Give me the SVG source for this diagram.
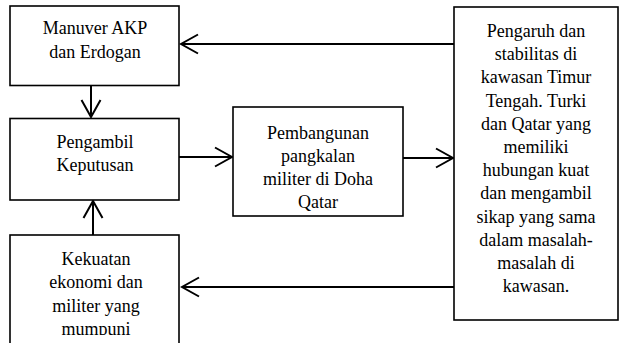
<svg xmlns="http://www.w3.org/2000/svg" width="619" height="343" viewBox="0 0 619 343">
<style>
.box{fill:#fff;stroke:#000;stroke-width:1.6}
.lbl{font-family:"Liberation Serif","Times New Roman",serif;font-size:18px;fill:#000;text-anchor:middle}
.con{stroke:#000;stroke-width:2;fill:none}
</style>
<defs>
<marker id="ah" markerUnits="userSpaceOnUse" viewBox="-20 -12 22 24" markerWidth="22" markerHeight="24" refX="0" refY="0" orient="auto">
<path d="M-17,-9.5 L0,0 L-17,9.5" fill="none" stroke="#000" stroke-width="2"/>
</marker>
<clipPath id="clip3"><rect x="0" y="0" width="619" height="335"/></clipPath>
</defs>
<rect width="619" height="343" fill="#fff"/>
<g id="connectors">
<line class="con" x1="454" y1="44" x2="181" y2="44" marker-end="url(#ah)"/>
<line class="con" x1="91" y1="86" x2="91" y2="117" marker-end="url(#ah)"/>
<line class="con" x1="93" y1="235" x2="93" y2="201" marker-end="url(#ah)"/>
<line class="con" x1="179" y1="157" x2="232" y2="157" marker-end="url(#ah)"/>
<line class="con" x1="403" y1="158" x2="453" y2="158" marker-end="url(#ah)"/>
<line class="con" x1="454" y1="287" x2="182" y2="287" marker-end="url(#ah)"/>
</g>
<g id="manuver">
<rect class="box" x="10" y="6" width="169" height="79.5"/>
<text class="lbl" x="95" y="34">Manuver AKP</text>
<text class="lbl" x="95" y="57.5">dan Erdogan</text>
</g>
<g id="pengambil">
<rect class="box" x="10" y="118.5" width="169" height="81.5"/>
<text class="lbl" x="95" y="147.5">Pengambil</text>
<text class="lbl" x="95" y="170.5">Keputusan</text>
</g>
<g id="kekuatan">
<rect class="box" x="10" y="235" width="169" height="120"/>
<g clip-path="url(#clip3)">
<text class="lbl" x="96" y="264.5">Kekuatan</text>
<text class="lbl" x="96" y="288">ekonomi dan</text>
<text class="lbl" x="96" y="311.5">militer yang</text>
<text class="lbl" x="96" y="335">mumpuni</text>
</g>
</g>
<g id="pembangunan">
<rect class="box" x="233" y="107" width="170" height="109"/>
<text class="lbl" x="318" y="138.5">Pembangunan</text>
<text class="lbl" x="318" y="161.5">pangkalan</text>
<text class="lbl" x="318" y="184.5">militer di Doha</text>
<text class="lbl" x="318" y="207.5">Qatar</text>
</g>
<g id="pengaruh">
<rect class="box" x="454" y="7" width="164" height="313"/>
<text class="lbl" x="536" y="37">Pengaruh dan</text>
<text class="lbl" x="536" y="60.2">stabilitas di</text>
<text class="lbl" x="536" y="83.4">kawasan Timur</text>
<text class="lbl" x="536" y="106.6">Tengah. Turki</text>
<text class="lbl" x="536" y="129.8">dan Qatar yang</text>
<text class="lbl" x="536" y="153">memiliki</text>
<text class="lbl" x="536" y="176.2">hubungan kuat</text>
<text class="lbl" x="536" y="199.4">dan mengambil</text>
<text class="lbl" x="536" y="222.6">sikap yang sama</text>
<text class="lbl" x="536" y="245.8">dalam masalah-</text>
<text class="lbl" x="536" y="269">masalah di</text>
<text class="lbl" x="536" y="292.2">kawasan.</text>
</g>
</svg>
